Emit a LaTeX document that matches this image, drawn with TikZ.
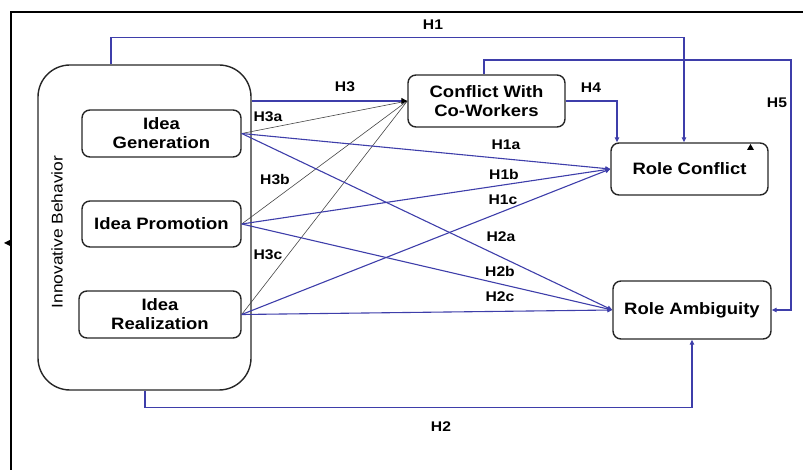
\documentclass[tikz,border=0pt]{standalone}
\usepackage{fontspec}
\setmainfont{Liberation Sans}[FakeStretch=1.12]
\usetikzlibrary{arrows.meta}
\definecolor{lblue}{RGB}{62,62,170}
\definecolor{lgray}{RGB}{70,70,70}
\tikzset{
  box/.style={draw=black!85, line width=1.4pt, rounded corners=8pt, align=center,
    font=\fontsize{16.5}{19}\selectfont\bfseries, inner sep=2pt},
  bl/.style={draw=lblue, line width=1.1pt},
  gl/.style={draw=lgray, line width=0.6pt},
  tip/.style={-{Triangle[length=5pt,width=4.5pt]}},
  lab/.style={font=\fontsize{14}{16}\selectfont\bfseries, inner sep=0pt}
}
\begin{document}
\begin{tikzpicture}[x=1pt,y=-1pt]
\useasboundingbox (0,0) rectangle (803,470);
% frame
\draw[line width=1.8pt] (11,470) -- (11,12) -- (803,12);
\fill (11,239.5) -- (11,246.5) -- (4,243) -- cycle;
% nodes
\node[draw=black!85, line width=1.4pt, rounded corners=32pt, minimum width=213pt, minimum height=325pt] (IB) at (144.5,227.5) {};
\node[rotate=90, font=\fontsize{15.5}{18}\selectfont] (IBt) at (57,232) {Innovative Behavior};
\node[box, minimum width=159pt, minimum height=47pt] (IG) at (161.5,133.5) {Idea\\Generation};
\node[box, minimum width=159pt, minimum height=46pt] (IP) at (161.5,224) {Idea Promotion};
\node[box, minimum width=162pt, minimum height=47pt] (IR) at (160,314.5) {Idea\\Realization};
\node[box, minimum width=157pt, minimum height=52pt] (CW) at (486.5,101) {Conflict With\\Co-Workers};
\node[box, minimum width=157pt, minimum height=52pt] (RC) at (689.5,169) {Role Conflict};
\node[box, minimum width=158pt, minimum height=58pt] (RA) at (692,310) {Role Ambiguity};
\fill (747,150) -- (754,150) -- (750.5,144) -- cycle;
% H1
\draw[bl, tip] ([xshift=-33.5pt]IB.north) -- ++(0,-27) -| ([xshift=-5.5pt]RC.north);
% H5
\coordinate (h5c) at (791,60);
\draw[bl, tip] ([xshift=-2.5pt]CW.north) |- (h5c) |- (RA.east);
% H4
\draw[bl, tip] (CW.east) -| ([xshift=-72.5pt]RC.north);
% gray lines to CW
\draw[gl] (IG.east) -- (CW.west);
\draw[gl] (IP.east) -- (CW.west);
\draw[gl] (IR.east) -- (CW.west);
% H3
\draw[bl, -{Triangle[length=6pt,width=6pt,color=black]}] (IB.east |- CW.west) -- (CW.west);
% blue lines
\draw[bl, tip] (IG.east) -- (RC.west);
\draw[bl, tip] (IP.east) -- (RC.west);
\draw[bl, tip] (IR.east) -- (RC.west);
\draw[bl, tip] (IG.east) -- (RA.west);
\draw[bl, tip] (IP.east) -- (RA.west);
\draw[bl, tip] (IR.east) -- (RA.west);
% H2
\draw[bl, tip] ([xshift=0.5pt]IB.south) -- ++(0,17) -| (RA.south);
% labels
\node[lab] (l1) at (433,25) {H1};
\node[lab] (l3) at (345,87) {H3};
\node[lab] (l3a) at (268,117) {H3a};
\node[lab] (l3b) at (275,180) {H3b};
\node[lab] (l3c) at (268,255) {H3c};
\node[lab] (l4) at (591,88) {H4};
\node[lab] (l5) at (777,103) {H5};
\node[lab] (l1a) at (506,145) {H1a};
\node[lab] (l1b) at (504,174) {H1b};
\node[lab] (l1c) at (503,200) {H1c};
\node[lab] (l2a) at (501,237) {H2a};
\node[lab] (l2b) at (500,271) {H2b};
\node[lab] (l2c) at (500,297) {H2c};
\node[lab] (l2) at (441,427) {H2};
\end{tikzpicture}
\end{document}
